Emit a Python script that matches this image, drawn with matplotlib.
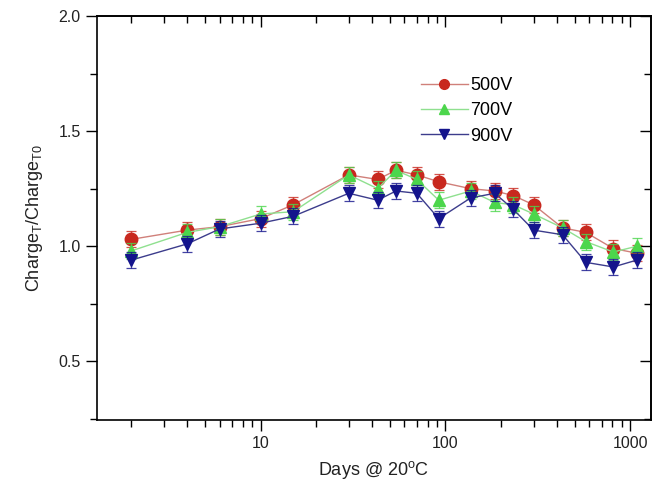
import numpy as np, matplotlib
matplotlib.use('Agg')
import matplotlib.pyplot as plt
from matplotlib.ticker import LogLocator, FixedLocator, MultipleLocator, NullFormatter

plt.rcParams['font.family'] = ['Liberation Sans', 'DejaVu Sans']
plt.rcParams['mathtext.fontset'] = 'custom'
plt.rcParams['mathtext.rm'] = 'Liberation Sans'

# days at 20C
days = [2, 4, 6, 10, 15, 30, 43, 54, 70, 92, 137, 185, 233, 300, 430, 575, 810, 1085]
v500 = [1.03, 1.07, 1.085, 1.12, 1.18, 1.31, 1.29, 1.33, 1.31, 1.28, 1.25, 1.24, 1.22, 1.18, 1.08, 1.06, 0.99, 0.97]
v700 = [0.98, 1.06, 1.085, 1.14, 1.15, 1.31, 1.25, 1.33, 1.29, 1.20, 1.24, 1.19, 1.18, 1.14, 1.08, 1.02, 0.975, 1.00]
v900 = [0.94, 1.01, 1.075, 1.10, 1.13, 1.23, 1.20, 1.24, 1.23, 1.12, 1.21, 1.23, 1.16, 1.07, 1.05, 0.93, 0.91, 0.94]
err = 0.035

series = [
    ('500V', v500, 'o', '#C8281E', '#D0807A'),
    ('700V', v700, '^', '#4CD64C', '#8FE08F'),
    ('900V', v900, 'v', '#14148C', '#3C3C8C'),
]

fig = plt.figure(figsize=(6.54, 4.84), dpi=100)
ax = fig.add_axes([0.148, 0.132, 0.847, 0.835])
for lab, v, m, c, lc in series:
    ax.errorbar(days, v, yerr=err, fmt='none', ecolor=c, elinewidth=0.9, capsize=3.5, capthick=0.9, alpha=0.8)
    ax.plot(days, v, '-', color=lc, lw=1.0)
    ax.plot(days, v, m, color=c, ms=9, mec=c, ls='none')
    ax.plot([], [], '-', marker=m, color=lc, mfc=c, mec=c, ms=7, lw=1.0, label=lab)

ax.set_xscale('log')
ax.set_xlim(1.3, 1290)
ax.set_ylim(0.245, 2.0)
ax.yaxis.set_major_locator(MultipleLocator(0.5))
ax.yaxis.set_minor_locator(MultipleLocator(0.25))
ax.xaxis.set_major_locator(FixedLocator([10, 100, 1000]))
ax.xaxis.set_minor_locator(LogLocator(base=10, subs=np.arange(2, 10)))
ax.xaxis.set_minor_formatter(NullFormatter())
ax.set_xticklabels(['10', '100', '1000'])
ax.tick_params(axis='both', which='major', labelsize=11.5, width=1.0, color='black', labelcolor='#222222')
ax.tick_params(which='major', length=8)
ax.tick_params(which='minor', length=5, width=1.0)
ax.tick_params(axis='x', which='both', direction='out', top=False)
ax.tick_params(axis='y', which='both', direction='out', right=False)
ax.yaxis.set_major_formatter(matplotlib.ticker.FormatStrFormatter('%.1f'))
for s in ax.spines.values():
    s.set_linewidth(1.2)

# inward ticks on top and right
axt = ax.secondary_xaxis('top')
axt.xaxis.set_major_locator(FixedLocator([10, 100, 1000]))
axt.xaxis.set_minor_locator(LogLocator(base=10, subs=np.arange(2, 10)))
axt.tick_params(which='both', direction='in', labeltop=False)
axt.tick_params(which='major', length=8, width=1.0)
axt.tick_params(which='minor', length=5, width=1.0)
axt.xaxis.set_minor_formatter(NullFormatter())
axt.spines['top'].set_linewidth(1.2)
axr = ax.secondary_yaxis('right')
axr.yaxis.set_major_locator(MultipleLocator(0.5))
axr.yaxis.set_minor_locator(MultipleLocator(0.25))
axr.tick_params(which='both', direction='in', labelright=False)
axr.tick_params(which='major', length=8, width=1.0)
axr.tick_params(which='minor', length=5, width=1.0)
axr.spines['right'].set_linewidth(1.2)

ax.set_xlabel('Days @ 20$^\\mathregular{o}$C', fontsize=13, labelpad=6, color='#222222')
ax.set_ylabel('Charge$_\\mathregular{T}$/Charge$_\\mathregular{T0}$', fontsize=13, labelpad=10, color='#222222')
ax.legend(loc='upper left', bbox_to_anchor=(0.572, 0.866), frameon=False, fontsize=13,
          handlelength=2.6, handletextpad=0.15, labelspacing=0.45, borderaxespad=0)

fig.savefig('out.png', dpi=100)
